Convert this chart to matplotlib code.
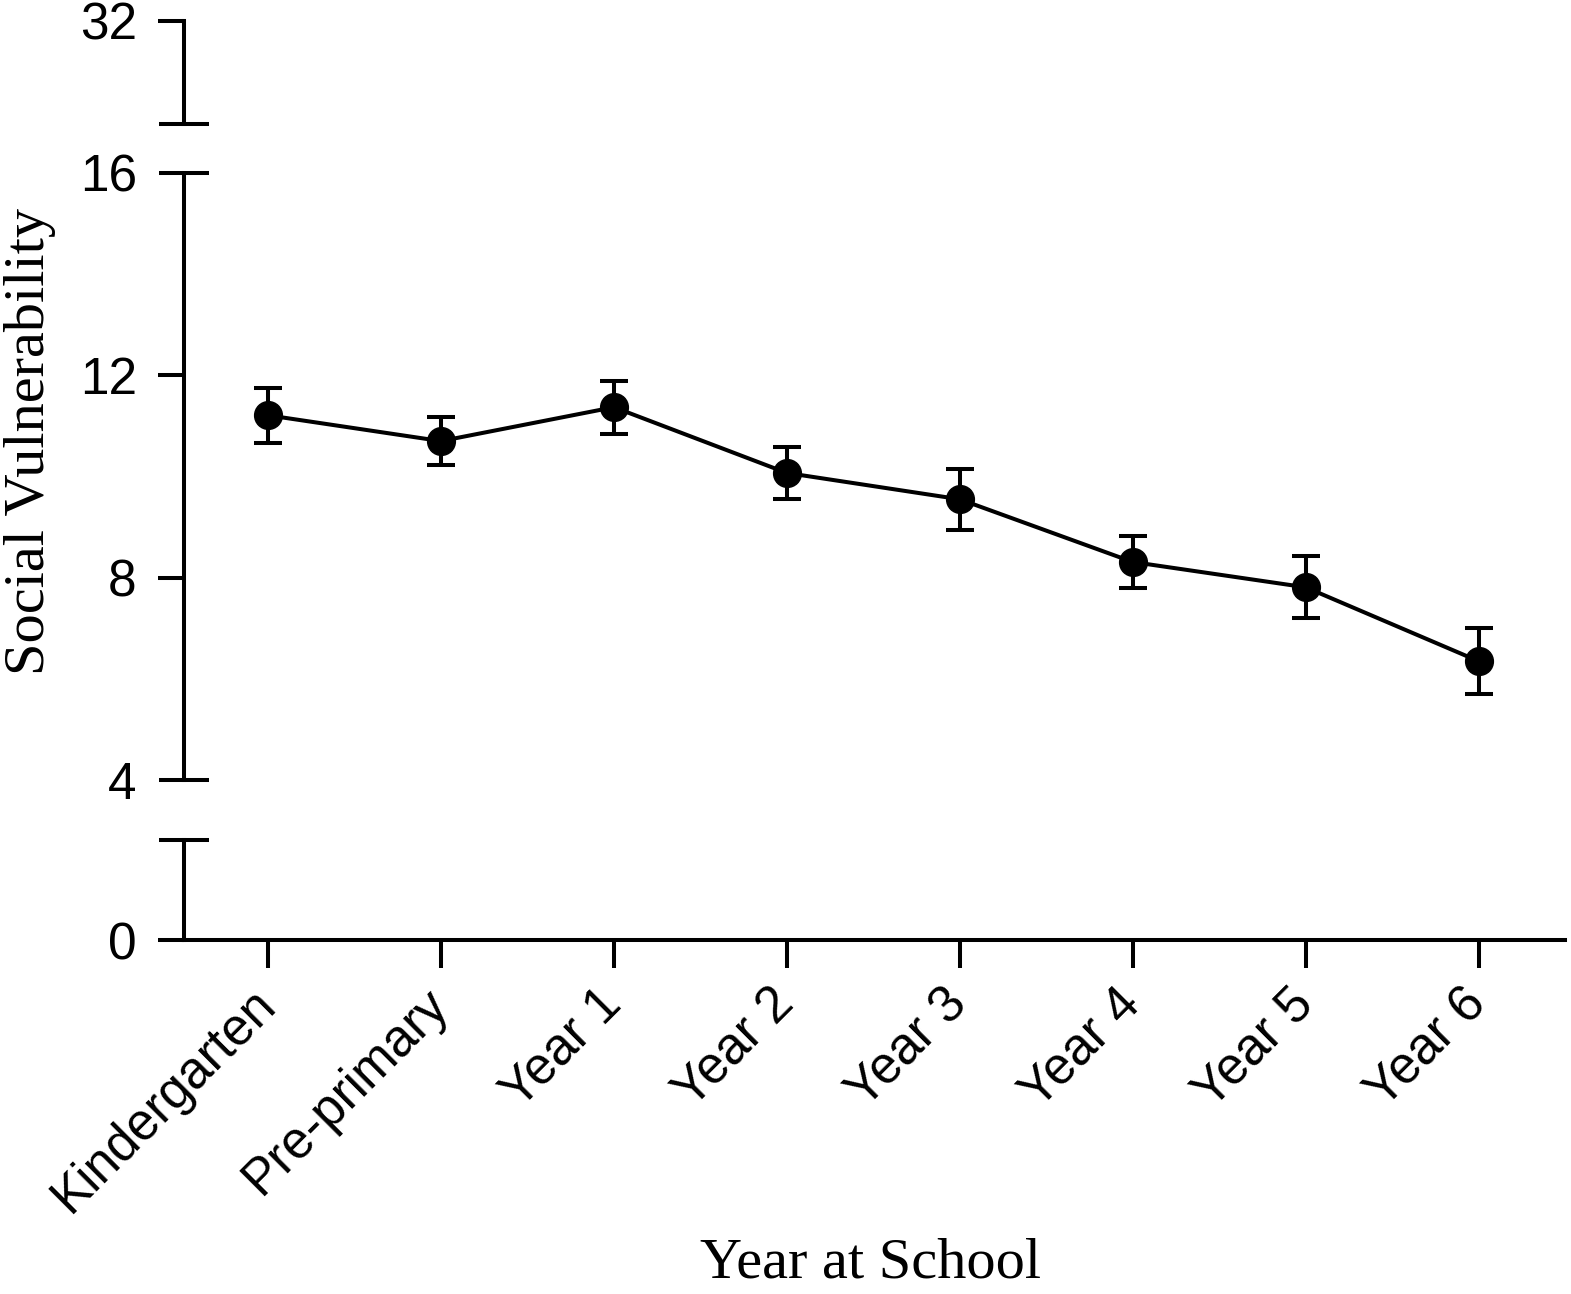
import numpy as np
import matplotlib
matplotlib.use("Agg")
import matplotlib.pyplot as plt

# data
grades = ["Kindergarten", "Pre-primary", "Year 1", "Year 2", "Year 3", "Year 4", "Year 5", "Year 6"]
means = [11.21, 10.70, 11.37, 10.07, 9.55, 8.31, 7.81, 6.35]
errs = [0.54, 0.47, 0.52, 0.52, 0.60, 0.52, 0.61, 0.65]

W, H = 1571, 1294
fig = plt.figure(figsize=(W / 100, H / 100), dpi=100)

sans = "Liberation Sans"
serif = "Liberation Serif"
lw = 2.9
fs = 37
x = np.arange(len(grades))
xlim = (-0.486, 7.5)

def px_axes(top, bottom):
    left = 184 / W
    right = 1565 / W
    return fig.add_axes([left, (H - bottom) / H, right - left, (bottom - top) / H])

ax_top = px_axes(21, 124)
ax_mid = px_axes(173, 780)
ax_bot = px_axes(840, 940)

for ax in (ax_top, ax_mid, ax_bot):
    ax.set_xlim(*xlim)
    ax.patch.set_alpha(0)
    for s in ("top", "right"):
        ax.spines[s].set_visible(False)
    ax.spines["left"].set_linewidth(lw)
    ax.spines["bottom"].set_linewidth(lw)
    ax.tick_params(axis="y", which="major", direction="out", length=19, width=lw,
                   pad=15, labelsize=fs)
    ax.tick_params(axis="y", which="minor", direction="inout", length=36, width=lw,
                   pad=16, labelsize=fs)

for ax in (ax_top, ax_mid):
    ax.spines["bottom"].set_visible(False)
    ax.set_xticks([])

# top segment
ax_top.set_ylim(30, 32)
ax_top.set_yticks([32])
ax_top.set_yticklabels(["32"], fontfamily=sans, fontsize=fs)
ax_top.set_yticks([30], minor=True)
ax_top.set_yticklabels([""], minor=True)

# middle segment with the data
ax_mid.set_ylim(4, 16)
ax_mid.set_yticks([8, 12])
ax_mid.set_yticklabels(["8", "12"], fontfamily=sans, fontsize=fs)
ax_mid.set_yticks([4, 16], minor=True)
ax_mid.set_yticklabels(["4", "16"], minor=True, fontfamily=sans, fontsize=fs)
ax_mid.errorbar(x, means, yerr=errs, color="black", lw=lw, marker="o", markersize=20,
                ecolor="black", elinewidth=lw, capsize=10, capthick=lw, clip_on=False)

# bottom segment
ax_bot.set_ylim(0, 1.98)
ax_bot.set_yticks([0])
ax_bot.set_yticklabels(["0"], fontfamily=sans, fontsize=fs)
ax_bot.set_yticks([1.98], minor=True)
ax_bot.set_yticklabels([""], minor=True)
ax_bot.set_xticks(x)
ax_bot.set_xticklabels(grades, rotation=45, ha="right", va="center",
                       rotation_mode="anchor", fontfamily=sans, fontsize=fs)
ax_bot.tick_params(axis="x", direction="out", length=20, width=lw, pad=21)

fig.text(30 / W, 1 - 441 / H, "Social Vulnerability", rotation=90, ha="center",
         va="center", fontfamily=serif, fontsize=42)
fig.text(870 / W, (H - 1278) / H, "Year at School", ha="center", va="baseline",
         fontfamily=serif, fontsize=42)

fig.savefig("out.png", dpi=100)
